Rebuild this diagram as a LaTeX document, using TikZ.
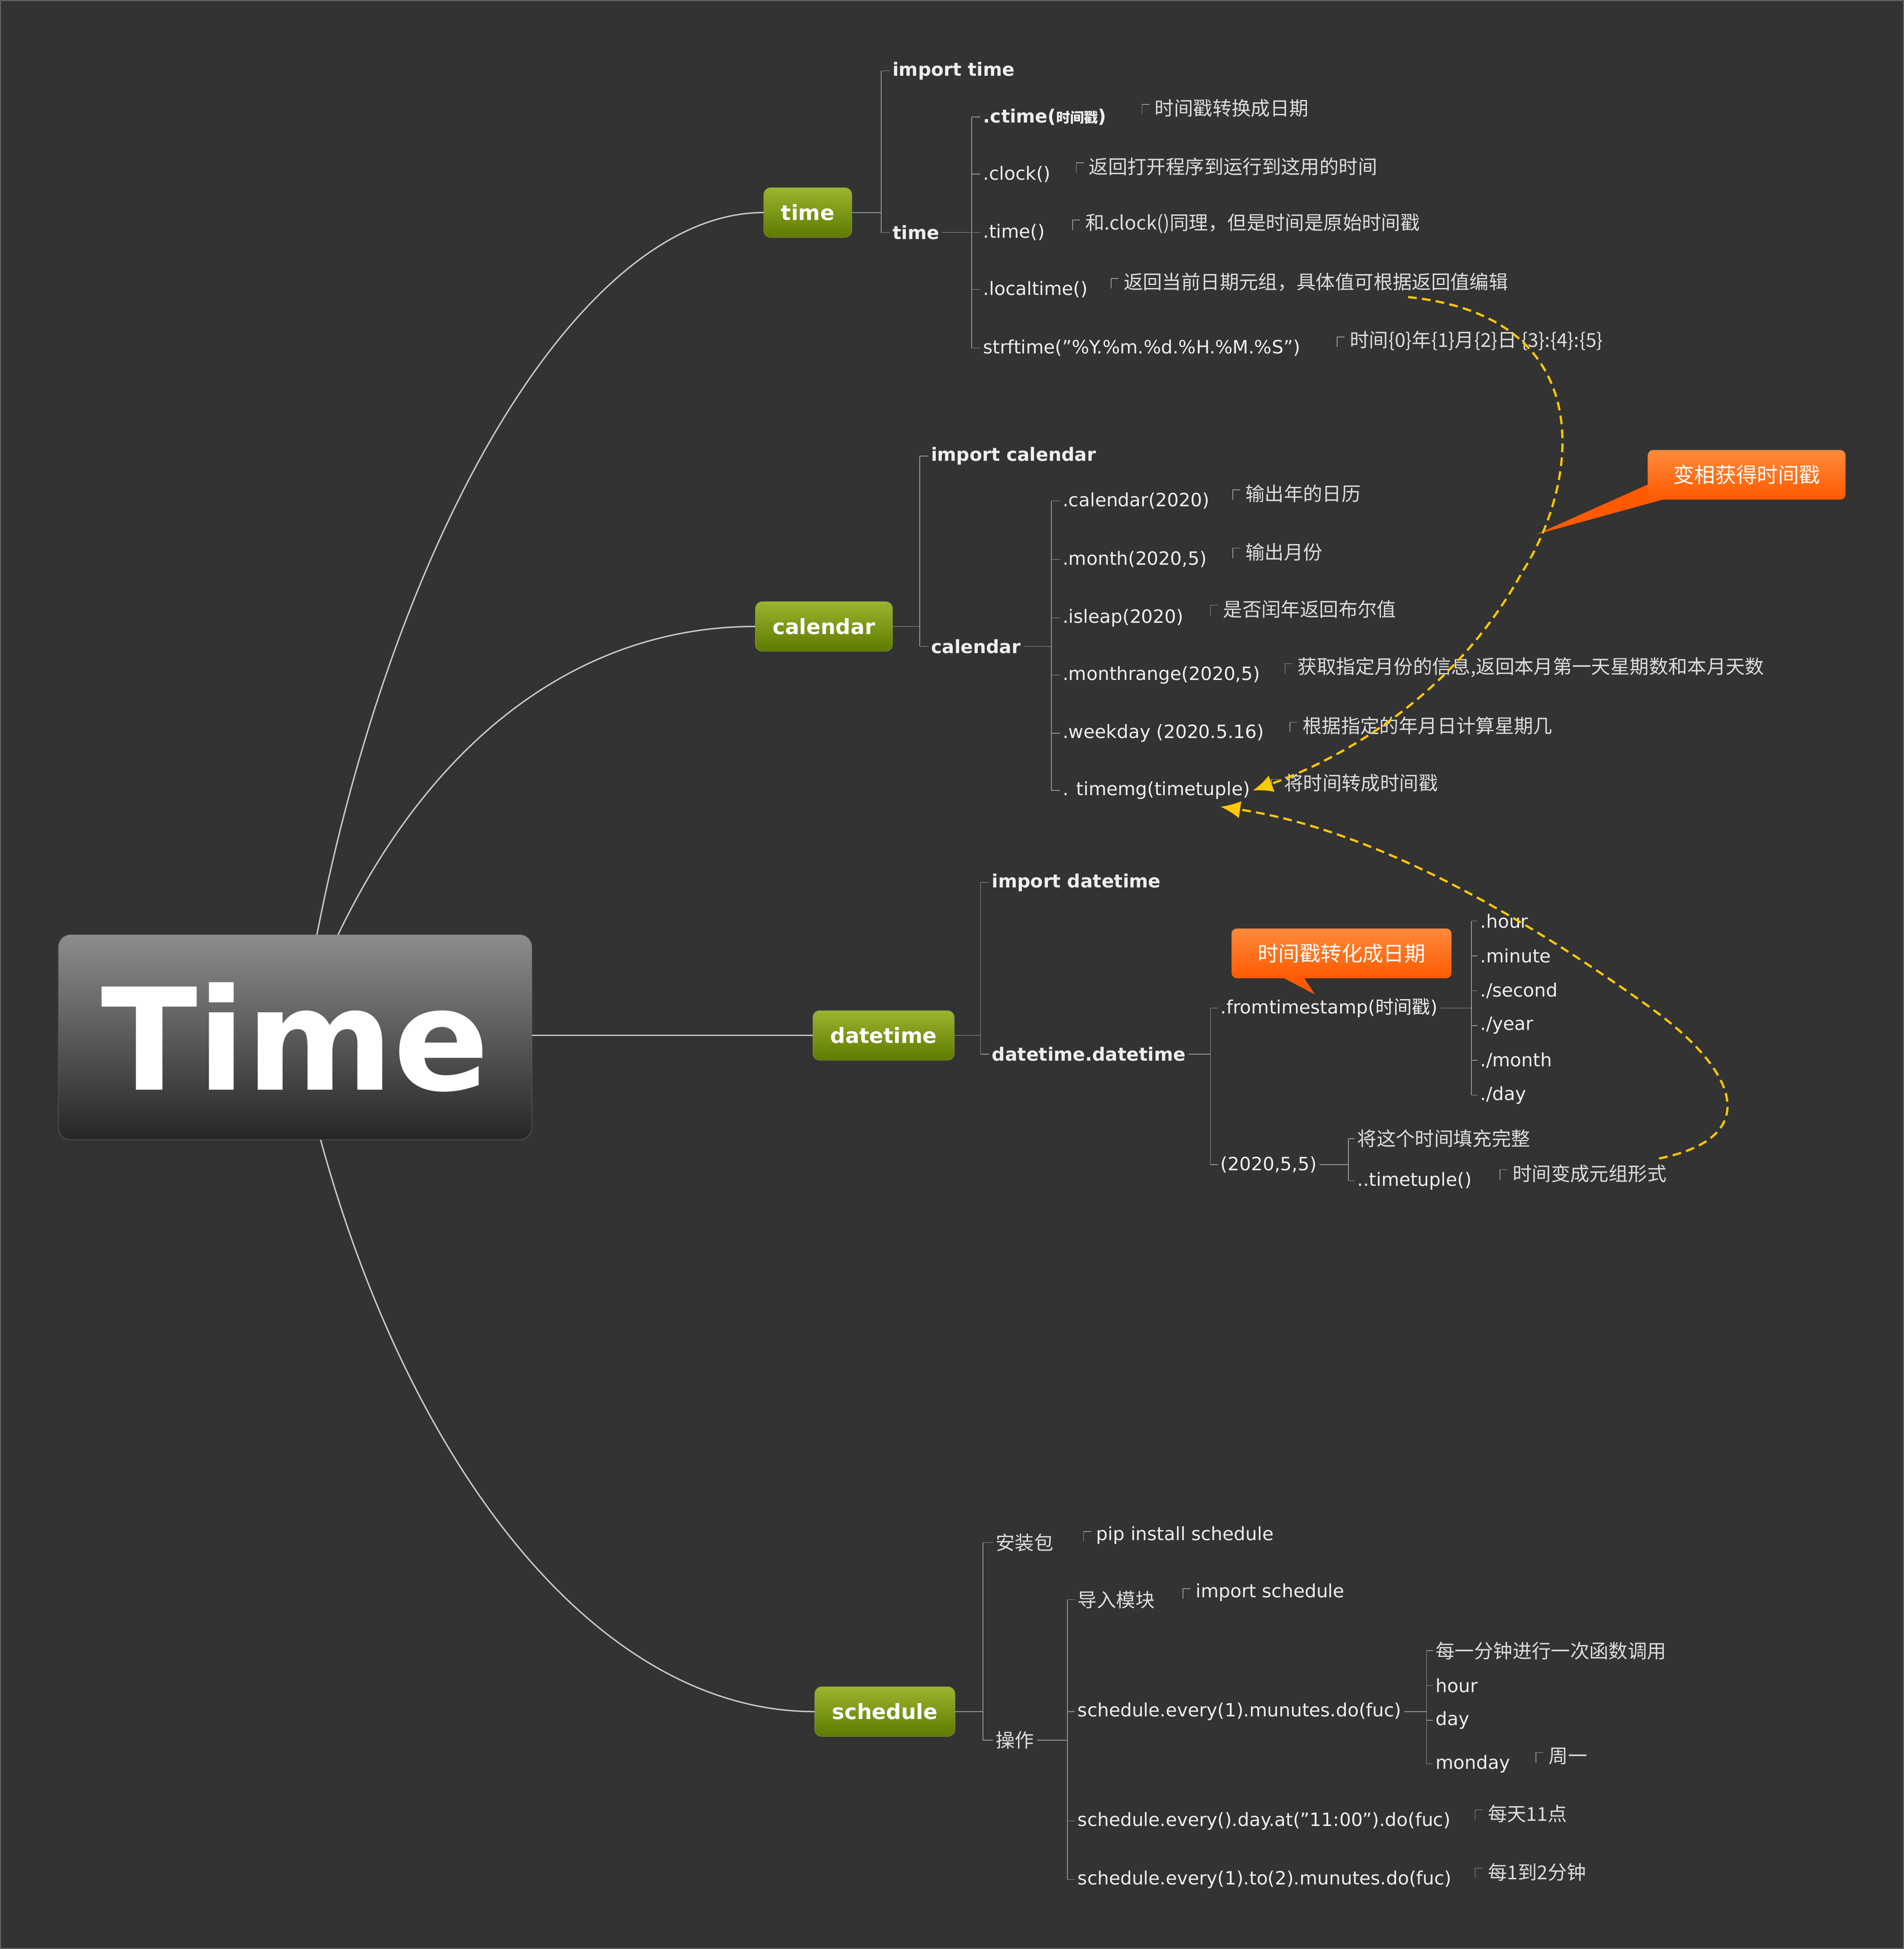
\documentclass[tikz,border=0pt]{standalone}
\usepackage{fontspec}
\setmainfont{DejaVu Sans}
\newfontfamily\cjk{Noto Sans CJK SC}
\usetikzlibrary{arrows.meta}

\definecolor{bgcol}{HTML}{333333}
\definecolor{txtcol}{HTML}{EEEEEE}
\definecolor{notecol}{HTML}{DDDDDD}
\definecolor{linecol}{HTML}{9A9A9A}
\definecolor{curvecol}{HTML}{C8C8C8}
\definecolor{olivetop}{HTML}{9AB52E}
\definecolor{olivebot}{HTML}{5E7A00}
\definecolor{orangetop}{HTML}{FF8A3C}
\definecolor{orangebot}{HTML}{FF5A00}
\definecolor{dashcol}{HTML}{FFC800}

\tikzset{
  item/.style={anchor=west, inner sep=3pt, text=txtcol, font=\fontsize{21}{25}\selectfont},
  bolditem/.style={item, font=\fontsize{21}{25}\selectfont\bfseries},
  note/.style={anchor=west, inner sep=3pt, text=notecol, font=\cjk\fontsize{22}{26}\selectfont},
  tree/.style={draw=linecol, line width=0.8pt},
  branch/.style={draw=olivebot!70!white, rounded corners=8pt, top color=olivetop, bottom color=olivebot,
    text=white, font=\fontsize{24}{28}\selectfont\bfseries, minimum height=2cm, inner xsep=0.7cm},
  callout/.style={rounded corners=6pt, top color=orangetop, bottom color=orangebot,
    text=white, font=\cjk\fontsize{24}{28}\selectfont, minimum height=2cm, inner xsep=0.5cm},
  link/.style={draw=curvecol, line width=1.6pt},
  jump/.style={draw=dashcol, dash pattern=on 10pt off 6pt, line width=2.5pt, -{Latex[length=0.8cm,width=0.7cm]}}
}
% small hook before each note
\newcommand{\hook}[1]{\draw[tree] ([xshift=-0.4cm,yshift=-0.25cm]#1.west) -- ++(0,0.4cm) -- ++(0.3cm,0);}

\begin{document}
\begin{tikzpicture}[x=0.05cm, y=-0.05cm]
  % background
  \fill[bgcol] (0,0) rectangle (1532,1568);
  \draw[linecol] (0.5,0.5) rectangle (1531.5,1567.5);
  \useasboundingbox (0,0) rectangle (1532,1568);

  % root
  \node[draw=black!55, rounded corners=14pt, top color=black!45, bottom color=black!85,
    minimum width=19.05cm, minimum height=8.25cm, text=white,
    font=\fontsize{162}{162}\selectfont\bfseries] (root) at (237.5,834.5) {Time};

  % branches
  \node[branch] (time) at (650,171) {time};
  \node[branch] (cal) at (663,504) {calendar};
  \node[branch] (dt) at (711,833) {datetime};
  \node[branch] (sch) at (712,1377) {schedule};

  \draw[link] (255,752) .. controls (320,420) and (470,171) .. (time.west);
  \draw[link] (272,752) .. controls (350,590) and (470,504) .. (cal.west);
  \draw[link] (root.east |- dt.west) -- (dt.west);
  \draw[link] (258,917) .. controls (330,1180) and (480,1377) .. (sch.west);

  % time
  \node[bolditem] (imptime) at (716,57) {import time};
  \node[bolditem] (timemod) at (716,187) {time};
  \coordinate (tv) at (709,0);
  \draw[tree] (time.east) -- (time.east -| tv);
  \draw[tree] (tv |- imptime.west) -- (tv |- timemod.west);
  \foreach \n in {imptime,timemod} \draw[tree] (tv |- \n.west) -- (\n.west);

  \coordinate (tv2) at (782,0);
  \node[bolditem] (ctime) at (789,94) {.ctime({\cjk\fontsize{16}{18}\selectfont 时间戳})};
  \node[item] (clock) at (789,140) {.clock()};
  \node[item] (tm) at (789,187) {.time()};
  \node[item] (ltime) at (789,233) {.localtime()};
  \node[item] (sftime) at (789,280) {strftime("\%Y.\%m.\%d.\%H.\%M.\%S")};
  \draw[tree] (timemod.east) -- (timemod.east -| tv2);
  \draw[tree] (tv2 |- ctime.west) -- (tv2 |- sftime.west);
  \foreach \n in {ctime,clock,tm,ltime,sftime} \draw[tree] (tv2 |- \n.west) -- (\n.west);

  \node[note] (n1) at (927,87) {时间戳转换成日期};
  \node[note] (n2) at (874,134) {返回打开程序到运行到这用的时间};
  \node[note] (n3) at (871,180) {和.clock()同理，但是时间是原始时间戳};
  \node[note] (n4) at (902,227) {返回当前日期元组，具体值可根据返回值编辑};
  \node[note] (n5) at (1084,274) {时间\{0\}年\{1\}月\{2\}日 \{3\}:\{4\}:\{5\}};
  \foreach \n in {n1,n2,n3,n4,n5} {\hook{\n}}

  % calendar
  \node[bolditem] (impcal) at (747,367) {import calendar};
  \node[bolditem] (calmod) at (747,520) {calendar};
  \coordinate (cv) at (740,0);
  \draw[tree] (cal.east) -- (cal.east -| cv);
  \draw[tree] (cv |- impcal.west) -- (cv |- calmod.west);
  \foreach \n in {impcal,calmod} \draw[tree] (cv |- \n.west) -- (\n.west);

  \coordinate (cv2) at (846,0);
  \node[item] (c1) at (853,403) {.calendar(2020)};
  \node[item] (c2) at (853,450) {.month(2020,5)};
  \node[item] (c3) at (853,497) {.isleap(2020)};
  \node[item] (c4) at (853,543) {.monthrange(2020,5)};
  \node[item] (c5) at (853,590) {.weekday (2020.5.16)};
  \node[item] (c6) at (853,636) {. timemg(timetuple)};
  \draw[tree] (calmod.east) -- (calmod.east -| cv2);
  \draw[tree] (cv2 |- c1.west) -- (cv2 |- c6.west);
  \foreach \n in {c1,c2,c3,c4,c5,c6} \draw[tree] (cv2 |- \n.west) -- (\n.west);

  \node[note] (m1) at (1000,397) {输出年的日历};
  \node[note] (m2) at (1000,444) {输出月份};
  \node[note] (m3) at (982,490) {是否闰年返回布尔值};
  \node[note] (m4) at (1042,537) {获取指定月份的信息,返回本月第一天星期数和本月天数};
  \node[note] (m5) at (1046,584) {根据指定的年月日计算星期几};
  \node[note] (m6) at (1031,630) {将时间转成时间戳};
  \foreach \n in {m1,m2,m3,m4,m5,m6} {\hook{\n}}

  % datetime
  \node[bolditem] (impdt) at (796,710) {import datetime};
  \node[bolditem] (dtdt) at (796,848) {datetime.datetime};
  \coordinate (dv) at (789,0);
  \draw[tree] (dt.east) -- (dt.east -| dv);
  \draw[tree] (dv |- impdt.west) -- (dv |- dtdt.west);
  \foreach \n in {impdt,dtdt} \draw[tree] (dv |- \n.west) -- (\n.west);

  \coordinate (dv2) at (974,0);
  \node[item] (fts) at (980,811) {.fromtimestamp({\cjk 时间戳})};
  \node[item] (tup) at (980,937) {(2020,5,5)};
  \draw[tree] (dtdt.east) -- (dtdt.east -| dv2);
  \draw[tree] (dv2 |- fts.west) -- (dv2 |- tup.west);
  \foreach \n in {fts,tup} \draw[tree] (dv2 |- \n.west) -- (\n.west);

  \coordinate (dv3) at (1184,0);
  \foreach \t [count=\i] in {.hour,.minute,./second,./year,./month,./day}
    \node[item] (f\i) at (1189,{741+28*(\i-1)}) {\t};
  \draw[tree] (fts.east) -- (fts.east -| dv3);
  \draw[tree] (dv3 |- f1.west) -- (dv3 |- f6.west);
  \foreach \i in {1,...,6} \draw[tree] (dv3 |- f\i.west) -- (f\i.west);

  \coordinate (dv4) at (1085,0);
  \node[note] (fill) at (1090,916) {将这个时间填充完整};
  \node[item] (ttup) at (1090,950) {..timetuple()};
  \draw[tree] (tup.east) -- (tup.east -| dv4);
  \draw[tree] (dv4 |- fill.west) -- (dv4 |- ttup.west);
  \foreach \n in {fill,ttup} \draw[tree] (dv4 |- \n.west) -- (\n.west);
  \node[note] (tn) at (1215,944) {时间变成元组形式};
  \hook{tn}

  % schedule
  \node[note] (inst) at (799,1241) {安装包};
  \node[note] (op) at (799,1400) {操作};
  \coordinate (sv) at (791,0);
  \draw[tree] (sch.east) -- (sch.east -| sv);
  \draw[tree] (sv |- inst.west) -- (sv |- op.west);
  \foreach \n in {inst,op} \draw[tree] (sv |- \n.west) -- (\n.west);
  \node[item] (pip) at (880,1235) {pip install schedule};
  \hook{pip}

  \coordinate (sv2) at (859,0);
  \node[note] (imp) at (865,1287) {导入模块};
  \node[item] (e1) at (865,1377) {schedule.every(1).munutes.do(fuc)};
  \node[item] (e2) at (865,1465) {schedule.every().day.at("11:00").do(fuc)};
  \node[item] (e3) at (865,1512) {schedule.every(1).to(2).munutes.do(fuc)};
  \draw[tree] (op.east) -- (op.east -| sv2);
  \draw[tree] (sv2 |- imp.west) -- (sv2 |- e3.west);
  \foreach \n in {imp,e1,e2,e3} \draw[tree] (sv2 |- \n.west) -- (\n.west);
  \node[item] (impsch) at (960,1281) {import schedule};
  \node[note] (s2) at (1195,1459) {每天11点};
  \node[note] (s3) at (1195,1506) {每1到2分钟};
  \foreach \n in {impsch,s2,s3} {\hook{\n}}

  \coordinate (sv3) at (1148,0);
  \node[note] (u1) at (1153,1328) {每一分钟进行一次函数调用};
  \node[item] (u2) at (1153,1356) {hour};
  \node[item] (u3) at (1153,1384) {day};
  \node[item] (u4) at (1153,1419) {monday};
  \draw[tree] (e1.east) -- (e1.east -| sv3);
  \draw[tree] (sv3 |- u1.west) -- (sv3 |- u4.west);
  \foreach \n in {u1,u2,u3,u4} \draw[tree] (sv3 |- \n.west) -- (\n.west);
  \node[note] (mon) at (1244,1413) {周一};
  \hook{mon}

  % callouts
  \fill[orangebot] (1020,780) -- (1058,800) -- (1045,780) -- cycle;
  \node[callout, minimum width=8.85cm] (cb1) at (1079.5,767) {时间戳转化成日期};
  \fill[orangebot] (1330,388) -- (1236,430) -- (1345,400) -- cycle;
  \node[callout, minimum width=7.95cm] (cb2) at (1405.5,382) {变相获得时间戳};

  % dashed links
  \draw[jump] (1133,239) .. controls (1290,255) and (1270,390) .. (1225,460)
    .. controls (1170,560) and (1080,610) .. (c6.east);
  \draw[jump] (1335,932) .. controls (1420,915) and (1400,860) .. (1320,805)
    .. controls (1200,720) and (1090,665) .. (982,649);
\end{tikzpicture}
\end{document}
